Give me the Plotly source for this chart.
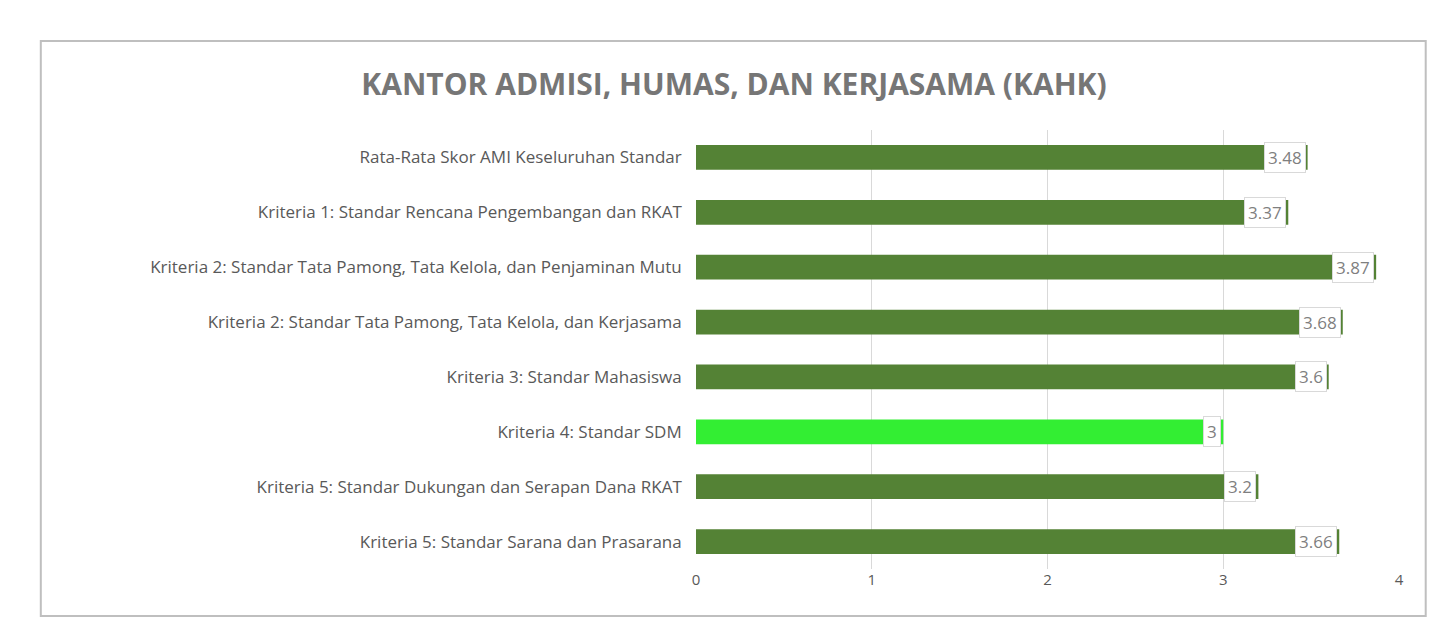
import plotly.graph_objects as go

categories = ["Rata-Rata Skor AMI Keseluruhan Standar",
 "Kriteria 1: Standar Rencana Pengembangan dan RKAT",
 "Kriteria 2: Standar Tata Pamong, Tata Kelola, dan Penjaminan Mutu",
 "Kriteria 2: Standar Tata Pamong, Tata Kelola, dan Kerjasama",
 "Kriteria 3: Standar Mahasiswa",
 "Kriteria 4: Standar SDM",
 "Kriteria 5: Standar Dukungan dan Serapan Dana RKAT",
 "Kriteria 5: Standar Sarana dan Prasarana"]
values = [3.48, 3.37, 3.87, 3.68, 3.6, 3, 3.2, 3.66]
labels = ["3.48", "3.37", "3.87", "3.68", "3.6", "3", "3.2", "3.66"]
colors = ["#33EE33" if v == min(values) else "#548235" for v in values]

fig = go.Figure(go.Bar(y=categories, x=values, orientation="h", marker=dict(color=colors, line=dict(width=0)), width=0.45))
for c, v, t in zip(categories, values, labels):
    fig.add_annotation(x=v, y=c, text=t, showarrow=False, xanchor="right", xshift=-2,
                       bgcolor="white", bordercolor="#D9D9D9", borderwidth=1, borderpad=3,
                       font=dict(size=17, color="#7F7F7F", family="Open Sans"))
fig.add_shape(type="rect", xref="paper", yref="paper", x0=-0.932, x1=1.038, y0=-0.107, y1=1.203,
              line=dict(color="#BFBFBF", width=2), fillcolor="rgba(0,0,0,0)", layer="below")
fig.update_layout(
    width=1452, height=641, paper_bgcolor="white", plot_bgcolor="white",
    margin=dict(l=688, r=61, t=122, b=80, autoexpand=False), showlegend=False,
    title=dict(text="<b>KANTOR ADMISI, HUMAS, DAN KERJASAMA (KAHK)</b>", xref="container", x=0.5, xanchor="center",
               yref="container", y=0.88, yanchor="middle",
               font=dict(size=30, color="#767676", family="Open Sans")),
    xaxis=dict(range=[0, 4], dtick=1, showgrid=True, gridcolor="#D9D9D9", gridwidth=1, zeroline=False,
               tickfont=dict(size=15, color="#595959", family="Open Sans"), automargin=False),
    yaxis=dict(autorange="reversed", tickfont=dict(size=17, color="#595959", family="Open Sans"),
               ticksuffix="   ", automargin=False),
)
fig.write_html("out.html")
